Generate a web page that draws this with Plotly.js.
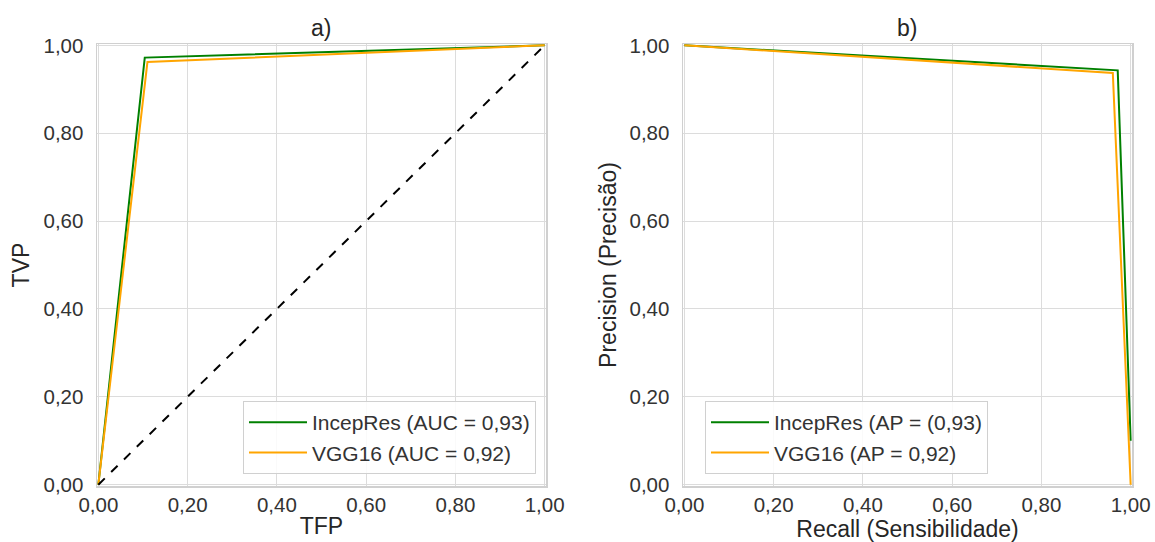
<!DOCTYPE html>
<html><head><meta charset="utf-8">
<script src="https://cdn.plot.ly/plotly-3.0.1.min.js"></script>
<style>body{margin:0}#c{width:1155px;height:542px}</style>
</head><body><div id="c"></div>
<script>
// ROC data
const rocIncepX = [0, 0.104, 1];
const rocIncepY = [0, 0.972, 1];
const rocVggX = [0, 0.11, 1];
const rocVggY = [0, 0.962, 1];
const chanceX = [0, 1];
const chanceY = [0, 1];
// PR data
const prIncepX = [0, 0.971, 1];
const prIncepY = [1, 0.943, 0.1];
const prVggX = [0, 0.96, 1];
const prVggY = [1, 0.937, 0];
const rocNames = ['IncepRes (AUC = 0,93)', 'VGG16 (AUC = 0,92)'];
const prNames = ['IncepRes (AP = (0,93)', 'VGG16 (AP = 0,92)'];
const tickVals = [0, 0.2, 0.4, 0.6, 0.8, 1.0];

const green = '#008000', orange = '#FFA500';
const traces = [
  {x: rocIncepX, y: rocIncepY, mode:'lines', name: rocNames[0], line:{color:green,width:2}, xaxis:'x', yaxis:'y', legend:'legend'},
  {x: rocVggX, y: rocVggY, mode:'lines', name: rocNames[1], line:{color:orange,width:2}, xaxis:'x', yaxis:'y', legend:'legend'},
  {x: chanceX, y: chanceY, mode:'lines', showlegend:false, line:{color:'black',width:2,dash:'dash'}, xaxis:'x', yaxis:'y'},
  {x: prIncepX, y: prIncepY, mode:'lines', name: prNames[0], line:{color:green,width:2}, xaxis:'x2', yaxis:'y2', legend:'legend2'},
  {x: prVggX, y: prVggY, mode:'lines', name: prNames[1], line:{color:orange,width:2}, xaxis:'x2', yaxis:'y2', legend:'legend2'}
];
const FAM = 'Liberation Sans, Arial, sans-serif';
const tickFont = {family:FAM, size:20.5, color:'#333'};
const titleFont = {family:FAM, size:23, color:'#262626'};
function ax(extra){
  return Object.assign({range:[-0.003,1.003], tickvals:tickVals, tickformat:'.2f', showgrid:true, gridcolor:'#dcdcdc', gridwidth:1,
    zeroline:false, showline:true, linecolor:'#d0d0d0', linewidth:1.5, mirror:true, ticks:'', tickfont:tickFont, fixedrange:true}, extra);
}
const legendStyle = {bgcolor:'rgba(255,255,255,0.85)', bordercolor:'#d0d0d0', borderwidth:1, font:{family:FAM, size:21, color:'#333'}, tracegroupgap:0, itemwidth:58};
const layout = {
  width:1155, height:542, margin:{l:0,r:0,t:0,b:0},
  paper_bgcolor:'white', plot_bgcolor:'white', separators:',.',
  font:{family:FAM},
  xaxis: ax({domain:[97/1155, 546/1155], anchor:'y', ticklabelstandoff:0, title:{text:'TFP', font:titleFont, standoff:3}}),
  yaxis: ax({domain:[1-486/542, 1-44/542], anchor:'x', ticklabelstandoff:8, title:{text:'TVP', font:titleFont, standoff:7}}),
  xaxis2: ax({domain:[683/1155, 1132/1155], anchor:'y2', ticklabelstandoff:0, title:{text:'Recall (Sensibilidade)', font:titleFont, standoff:3}}),
  yaxis2: ax({domain:[1-486/542, 1-44/542], anchor:'x2', ticklabelstandoff:8, title:{text:'Precision (Precisão)', font:titleFont, standoff:6}}),
  legend: Object.assign({x:536/1155, y:1-474/542, xanchor:'right', yanchor:'bottom'}, legendStyle),
  legend2: Object.assign({x:988/1155, y:1-474/542, xanchor:'right', yanchor:'bottom'}, legendStyle),
  annotations:[
    {text:'a)', x:321/1155, y:1-28/542, xref:'paper', yref:'paper', xanchor:'center', yanchor:'middle', showarrow:false, font:titleFont},
    {text:'b)', x:907/1155, y:1-28/542, xref:'paper', yref:'paper', xanchor:'center', yanchor:'middle', showarrow:false, font:titleFont}
  ]
};
Plotly.newPlot('c', traces, layout, {displayModeBar:false, staticPlot:true});
</script></body></html>
